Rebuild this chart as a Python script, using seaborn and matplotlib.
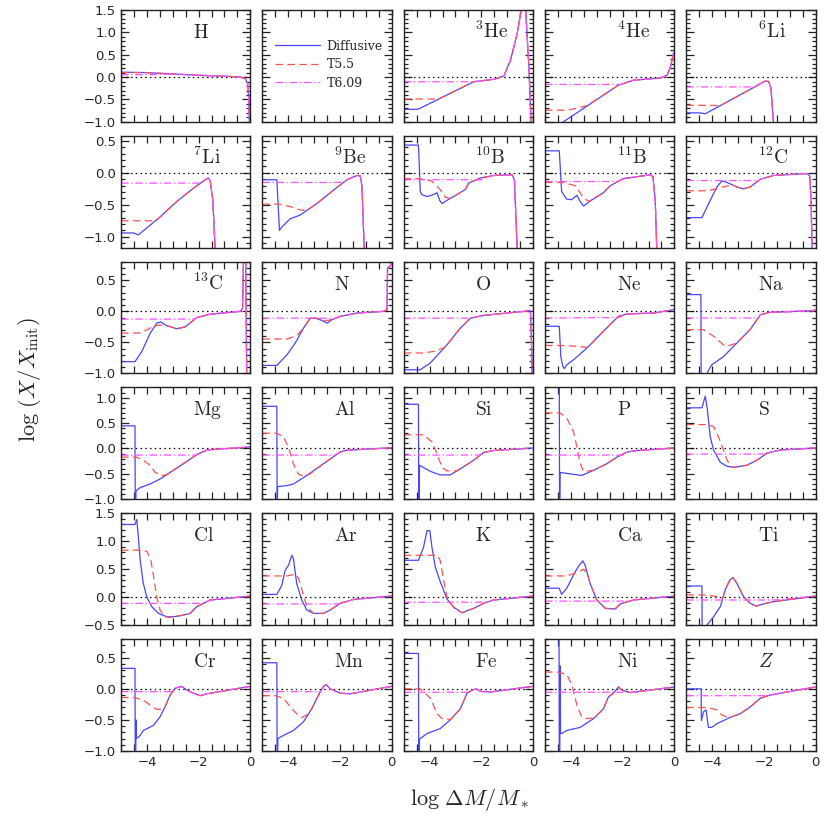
import numpy as np
import pandas as pd
import matplotlib
matplotlib.use('Agg')
import matplotlib.pyplot as plt
from matplotlib.ticker import MultipleLocator
import seaborn as sns

# Abundance profiles, log(X/X_init) vs log(dM/M*).
# Each list holds (x, y) points. The T5.5 / T6.09 models are given by their
# own points up to where they join the diffusive curve, then share its tail.

h_diff = [(-5, 0.11), (-4, 0.10), (-3, 0.07), (-2, 0.04), (-1, 0.02), (-0.4, 0.0),
          (-0.2, -0.03), (-0.1, -0.15), (-0.06, -0.5), (-0.03, -1.1)]
h_t55 = [(-5, 0.10), (-4.5, 0.10)]
h_t609 = [(-5, 0.05), (-3.8, 0.055), (-3.0, 0.07)]

he3_diff = [(-5, -0.72), (-4.45, -0.72), (-2.29, -0.105), (-1.52, -0.05), (-1.13, 0.02),
            (-0.87, 0.38), (-0.61, 0.98), (-0.48, 1.42), (-0.44, 1.65), (-0.30, 1.65),
            (-0.16, 0.23), (-0.07, -1.05)]
he3_t55 = [(-5, -0.49), (-3.85, -0.49), (-3.7, -0.5)]
he3_t609 = [(-5, -0.105), (-2.3, -0.105)]

he4_diff = [(-5, -1.27), (-4.29, -1.0), (-2.16, -0.18), (-1.58, -0.07), (-0.54, -0.02),
            (-0.28, 0.04), (-0.13, 0.27), (-0.01, 0.6)]
he4_t55 = [(-5, -0.74), (-4.16, -0.74), (-3.8, -0.7), (-3.38, -0.64)]
he4_t609 = [(-5, -0.165), (-2.1, -0.165)]

li6_diff = [(-5, -0.80), (-4.47, -0.80), (-4.27, -0.82), (-1.95, -0.09), (-1.82, -0.10),
            (-1.73, -0.25), (-1.63, -1.05)]
li6_t55 = [(-5, -0.63), (-4.21, -0.63), (-3.69, -0.64)]
li6_t609 = [(-5, -0.22), (-2.4, -0.22)]

li7_diff = [(-5, -0.94), (-4.52, -0.94), (-4.33, -0.97), (-3.49, -0.69), (-2.85, -0.45),
            (-2.20, -0.24), (-1.75, -0.11), (-1.62, -0.08), (-1.55, -0.13), (-1.45, -0.43),
            (-1.36, -1.2)]
li7_t55 = [(-5, -0.75), (-3.88, -0.75), (-3.62, -0.74)]
li7_t609 = [(-5, -0.16), (-1.94, -0.16)]

be9_diff = [(-5, -0.107), (-4.44, -0.107), (-4.34, -0.90), (-4.25, -0.85), (-3.93, -0.72),
            (-3.54, -0.66), (-2.89, -0.48), (-2.25, -0.27), (-1.73, -0.107), (-1.34, -0.04),
            (-1.21, -0.05), (-1.15, -0.21), (-1.06, -1.2)]
be9_t55 = [(-5, -0.49), (-4.31, -0.49), (-3.9, -0.53), (-3.54, -0.58), (-3.3, -0.59)]
be9_t609 = [(-5, -0.15), (-1.88, -0.15)]

b10_diff = [(-5, 0.435), (-4.43, 0.435), (-4.36, -0.29), (-4.30, -0.34), (-4.10, -0.37),
            (-3.84, -0.34), (-3.71, -0.31), (-3.61, -0.43), (-3.52, -0.48), (-3.33, -0.43),
            (-2.94, -0.34), (-2.62, -0.26), (-2.49, -0.16), (-2.03, -0.08), (-1.52, -0.04),
            (-0.81, -0.03), (-0.72, -0.11), (-0.61, -1.2)]
b10_t55 = [(-5, -0.09), (-4.36, -0.09), (-3.91, -0.13), (-3.59, -0.26), (-3.39, -0.38),
           (-3.2, -0.40)]
b10_t609 = [(-5, -0.107), (-2.0, -0.107)]

b11_diff = [(-5, 0.345), (-4.45, 0.345), (-4.36, -0.29), (-4.17, -0.41), (-3.97, -0.42),
            (-3.77, -0.35), (-3.64, -0.45), (-3.51, -0.52), (-3.26, -0.44), (-2.74, -0.31),
            (-2.48, -0.20), (-1.97, -0.09), (-0.93, -0.03), (-0.83, -0.06), (-0.74, -0.43),
            (-0.68, -1.2)]
b11_t55 = [(-5, -0.15), (-4.29, -0.15), (-3.84, -0.2), (-3.58, -0.35), (-3.38, -0.43),
           (-3.26, -0.44)]
b11_t609 = [(-5, -0.135), (-2.22, -0.135)]

c12_diff = [(-5, -0.70), (-4.40, -0.70), (-4.08, -0.43), (-3.82, -0.22), (-3.63, -0.125),
            (-3.43, -0.15), (-3.05, -0.22), (-2.79, -0.25), (-2.53, -0.22), (-2.14, -0.10),
            (-1.63, -0.04), (-0.33, -0.01), (-0.23, -0.05), (-0.18, -0.43), (-0.14, -1.2)]
c12_t55 = [(-5, -0.28), (-4.21, -0.28), (-3.82, -0.25), (-3.5, -0.21), (-3.2, -0.19)]
c12_t609 = [(-5, -0.12), (-2.2, -0.12)]

c13_diff = [(-5, -0.81), (-4.46, -0.81), (-4.20, -0.65), (-3.88, -0.36), (-3.62, -0.19),
            (-3.46, -0.17), (-3.23, -0.23), (-2.84, -0.28), (-2.52, -0.25), (-2.07, -0.10),
            (-1.55, -0.045), (-0.39, 0.0), (-0.30, 0.05), (-0.26, 0.9), (-0.18, 0.9),
            (-0.14, -1.1)]
c13_t55 = [(-5, -0.35), (-4.33, -0.35), (-4.0, -0.30), (-3.75, -0.24), (-3.5, -0.22),
           (-3.23, -0.23)]
c13_t609 = [(-5, -0.125), (-2.15, -0.125)]

n_diff = [(-5, -0.87), (-4.44, -0.87), (-4.05, -0.70), (-3.73, -0.51), (-3.41, -0.27),
          (-3.15, -0.11), (-2.96, -0.11), (-2.70, -0.145), (-2.50, -0.19), (-2.31, -0.135),
          (-1.99, -0.08), (-1.34, -0.027), (-0.31, 0.0), (-0.18, 0.027), (-0.16, 0.70),
          (-0.05, 0.73), (0, 0.85)]
n_t55 = [(-5, -0.445), (-4.05, -0.445), (-3.67, -0.39), (-3.41, -0.27), (-3.15, -0.11),
         (-2.9, -0.11), (-2.6, -0.15), (-2.4, -0.14)]
n_t609 = [(-5, -0.11), (-2.4, -0.11)]

o_diff = [(-5, -0.94), (-4.36, -0.94), (-3.97, -0.83), (-3.33, -0.54), (-2.81, -0.27),
          (-2.42, -0.11), (-1.91, -0.065), (-1.0, -0.027), (-0.10, 0.01), (-0.07, -0.35),
          (-0.03, -1.1)]
o_t55 = [(-5, -0.67), (-4.23, -0.67), (-3.84, -0.645), (-3.46, -0.59)]
o_t609 = [(-5, -0.11), (-2.42, -0.11)]

ne_diff = [(-5, -0.24), (-4.45, -0.24), (-4.39, -0.73), (-4.31, -0.89), (-4.25, -0.92),
           (-4.16, -0.86), (-3.90, -0.78), (-3.38, -0.59), (-2.74, -0.32), (-2.16, -0.08),
           (-1.83, -0.042), (-0.80, -0.027), (-0.03, 0.027), (0, 0.04)]
ne_t55 = [(-5, -0.55), (-4.29, -0.55), (-3.90, -0.56), (-3.6, -0.57), (-3.35, -0.58)]
ne_t609 = [(-5, -0.107), (-2.16, -0.10)]

na_diff = [(-5, 0.27), (-4.44, 0.27), (-4.43, -1.1), (-4.22, -1.1), (-4.21, -1.0),
           (-4.02, -0.86), (-3.57, -0.73), (-3.05, -0.51), (-2.53, -0.29), (-2.14, -0.053),
           (-1.76, -0.016), (-0.08, 0.011), (0, 0.03)]
na_t55 = [(-5, -0.295), (-4.34, -0.295), (-3.95, -0.40), (-3.57, -0.54), (-3.43, -0.56),
          (-3.2, -0.53), (-3.05, -0.51)]
na_t609 = [(-5, -0.107), (-2.2, -0.107)]

mg_diff = [(-5, 0.445), (-4.46, 0.445), (-4.45, -1.1), (-4.43, -1.1), (-4.42, -0.83),
           (-4.26, -0.77), (-3.88, -0.70), (-3.49, -0.60), (-3.10, -0.47), (-2.59, -0.30),
           (-2.07, -0.12), (-1.68, -0.03), (-1.16, -0.01), (0, 0.03)]
mg_t55 = [(-5, -0.17), (-4.41, -0.17), (-4.14, -0.23), (-3.88, -0.33), (-3.68, -0.47),
          (-3.42, -0.53), (-3.23, -0.52)]
mg_t609 = [(-5, -0.13), (-2.1, -0.13)]

al_diff = [(-5, 0.83), (-4.44, 0.83), (-4.43, -1.1), (-4.42, -1.1), (-4.41, -0.75),
           (-4.05, -0.73), (-3.80, -0.70), (-3.28, -0.53), (-2.64, -0.30), (-1.99, -0.07),
           (-1.73, -0.033), (0, 0.013)]
al_t55 = [(-5, 0.30), (-4.44, 0.30), (-4.19, 0.23), (-3.99, 0.03), (-3.80, -0.30),
          (-3.60, -0.51), (-3.41, -0.54), (-3.15, -0.50)]
al_t609 = [(-5, -0.13), (-2.2, -0.13)]

si_diff = [(-5, 0.87), (-4.43, 0.87), (-4.42, -1.1), (-4.40, -1.1), (-4.39, -0.33),
           (-3.97, -0.45), (-3.59, -0.52), (-3.20, -0.52), (-2.81, -0.40), (-2.29, -0.23),
           (-1.91, -0.08), (-1.52, -0.04), (0, 0.01)]
si_t55 = [(-5, 0.27), (-4.23, 0.27), (-3.91, 0.13), (-3.71, -0.11), (-3.52, -0.37),
          (-3.33, -0.44), (-2.94, -0.44)]
si_t609 = [(-5, -0.13), (-2.05, -0.13)]

p_diff = [(-5, 1.6), (-4.45, 1.6), (-4.44, -1.1), (-4.43, -1.1), (-4.42, -0.47),
          (-4.03, -0.50), (-3.58, -0.53), (-3.13, -0.43), (-2.61, -0.30), (-2.22, -0.17),
          (-1.83, -0.07), (-1.44, -0.04), (0, 0.01)]
p_t55 = [(-5, 0.70), (-4.42, 0.70), (-4.16, 0.60), (-3.90, 0.33), (-3.77, 0.03),
         (-3.64, -0.30), (-3.51, -0.45), (-3.13, -0.43)]
p_t609 = [(-5, -0.13), (-2.0, -0.13)]

s_diff = [(-5, 0.80), (-4.40, 0.80), (-4.27, 1.03), (-4.19, 0.77), (-4.08, 0.23),
          (-3.95, -0.03), (-3.69, -0.27), (-3.43, -0.35), (-3.18, -0.37), (-2.66, -0.33),
          (-2.27, -0.23), (-1.88, -0.09), (-1.37, -0.03), (0, 0.01)]
s_t55 = [(-5, 0.47), (-4.15, 0.47), (-3.95, 0.43), (-3.76, 0.23), (-3.57, -0.03),
         (-3.43, -0.23), (-3.24, -0.37)]
s_t609 = [(-5, -0.11), (-1.95, -0.11)]

cl_diff = [(-5, 1.30), (-4.46, 1.30), (-4.39, 1.39), (-4.33, 1.08), (-4.26, 0.67),
           (-4.14, 0.25), (-4.0, 0.0), (-3.81, -0.17), (-3.55, -0.29), (-3.23, -0.35),
           (-2.97, -0.35), (-2.59, -0.32), (-2.33, -0.29), (-2.07, -0.17), (-1.55, -0.05),
           (0, 0.02)]
cl_t55 = [(-5, 0.84), (-4.2, 0.84), (-4.0, 0.82), (-3.85, 0.67), (-3.72, 0.31),
          (-3.62, 0.0), (-3.49, -0.23), (-3.30, -0.35), (-3.10, -0.36)]
cl_t609 = [(-5, -0.11), (-1.85, -0.11)]

ar_diff = [(-5, 0.05), (-4.44, 0.05), (-4.25, 0.21), (-4.12, 0.48), (-3.99, 0.57),
           (-3.86, 0.75), (-3.80, 0.69), (-3.67, 0.24), (-3.47, -0.06), (-3.28, -0.23),
           (-3.02, -0.29), (-2.64, -0.29), (-2.38, -0.23), (-1.99, -0.11), (-1.47, -0.04),
           (0, 0.02)]
ar_t55 = [(-5, 0.38), (-4.05, 0.38), (-3.73, 0.41), (-3.60, 0.34), (-3.47, 0.13),
          (-3.28, -0.17), (-3.05, -0.28)]
ar_t609 = [(-5, -0.12), (-2.05, -0.12)]

k_diff = [(-5, 0.66), (-4.43, 0.66), (-4.23, 0.90), (-4.10, 1.19), (-3.99, 1.19),
          (-3.91, 0.90), (-3.78, 0.54), (-3.59, 0.28), (-3.33, -0.03), (-3.07, -0.18),
          (-2.74, -0.28), (-2.55, -0.24), (-2.29, -0.20), (-1.91, -0.11), (-1.52, -0.05),
          (0, 0.02)]
k_t55 = [(-5, 0.75), (-3.71, 0.75), (-3.59, 0.66), (-3.46, 0.31), (-3.33, 0.01),
         (-3.25, -0.08)]
k_t609 = [(-5, -0.09), (-1.8, -0.09)]

ca_diff = [(-5, 0.16), (-4.45, 0.16), (-4.36, 0.05), (-4.16, 0.16), (-3.90, 0.40),
           (-3.71, 0.55), (-3.54, 0.65), (-3.45, 0.57), (-3.26, 0.25), (-3.0, -0.05),
           (-2.67, -0.20), (-2.29, -0.21), (-2.09, -0.12), (-1.58, -0.05), (0, 0.02)]
ca_t55 = [(-5, 0.38), (-4.16, 0.38), (-3.77, 0.44), (-3.5, 0.50), (-3.35, 0.40)]
ca_t609 = [(-5, -0.07), (-1.75, -0.07)]

ti_diff = [(-5, 0.20), (-4.40, 0.20), (-4.39, -0.6), (-4.22, -0.6), (-4.21, -0.50),
           (-3.95, -0.35), (-3.69, -0.17), (-3.50, 0.13), (-3.33, 0.30), (-3.20, 0.35),
           (-3.05, 0.25), (-2.79, 0.01), (-2.53, -0.11), (-2.30, -0.16), (-2.02, -0.12),
           (-1.63, -0.08), (0, 0.02)]
ti_t55 = [(-5, 0.04), (-4.21, 0.04), (-3.82, 0.01), (-3.6, -0.02)]
ti_t609 = [(-5, -0.05), (-1.6, -0.05)]

cr_diff = [(-5, 0.33), (-4.46, 0.33), (-4.45, -1.1), (-4.43, -1.1), (-4.42, -0.5),
           (-4.41, -0.79), (-4.37, -0.79), (-4.26, -0.75), (-4.14, -0.67), (-3.75, -0.59),
           (-3.49, -0.45), (-3.30, -0.29), (-3.10, -0.10), (-2.91, 0.01), (-2.65, 0.04),
           (-2.45, -0.02), (-2.26, -0.06), (-1.94, -0.11), (-1.68, -0.08), (0, 0.04)]
cr_t55 = [(-5, -0.14), (-4.5, -0.14), (-4.14, -0.18), (-3.88, -0.26), (-3.62, -0.33),
          (-3.42, -0.33), (-3.30, -0.29)]
cr_t609 = [(-5, -0.045), (-3.0, -0.045)]

mn_diff = [(-5, 0.42), (-4.44, 0.42), (-4.43, -1.1), (-4.41, -1.1), (-4.40, -0.80),
           (-4.19, -0.75), (-3.80, -0.67), (-3.41, -0.53), (-3.09, -0.32), (-2.83, -0.10),
           (-2.64, 0.04), (-2.53, 0.07), (-2.38, 0.0), (-1.99, -0.07), (-1.60, -0.08),
           (0, 0.04)]
mn_t55 = [(-5, -0.11), (-4.5, -0.11), (-4.19, -0.15), (-3.86, -0.32), (-3.60, -0.43),
          (-3.47, -0.46), (-3.2, -0.40)]
mn_t609 = [(-5, -0.045), (-2.74, -0.045)]

fe_diff = [(-5, 0.57), (-4.43, 0.57), (-4.42, -1.1), (-4.40, -1.1), (-4.39, -0.81),
           (-4.10, -0.72), (-3.59, -0.64), (-3.20, -0.50), (-2.81, -0.32), (-2.55, -0.07),
           (-2.36, -0.02), (-2.19, 0.0), (-2.03, -0.04), (-1.65, -0.05), (0, 0.04)]
fe_t55 = [(-5, 0.0), (-4.36, 0.0), (-3.97, -0.15), (-3.71, -0.40), (-3.52, -0.48),
          (-3.33, -0.48), (-3.2, -0.50)]
fe_t609 = [(-5, -0.055), (-2.5, -0.055)]

ni_diff = [(-5, 1.0), (-4.46, 1.0), (-4.45, -1.1), (-4.43, -1.1), (-4.42, 0.37),
           (-4.40, -0.72), (-4.36, -0.72), (-4.16, -0.67), (-3.64, -0.62), (-3.13, -0.48),
           (-2.74, -0.32), (-2.55, -0.13), (-2.36, -0.07), (-2.16, 0.03), (-2.03, -0.02),
           (-1.71, -0.06), (-1.32, -0.04), (0, 0.03)]
ni_t55 = [(-5, 0.27), (-4.5, 0.27), (-4.16, 0.23), (-3.97, 0.07), (-3.77, -0.26),
          (-3.58, -0.45), (-3.38, -0.48), (-3.18, -0.47)]
ni_t609 = [(-5, -0.055), (-1.5, -0.055)]

z_diff = [(-5, 0.0), (-4.43, 0.0), (-4.42, -0.51), (-4.34, -0.37), (-4.24, -0.34),
          (-4.15, -0.62), (-4.02, -0.62), (-3.82, -0.56), (-3.31, -0.46), (-2.92, -0.40),
          (-2.53, -0.29), (-2.14, -0.15), (-1.76, -0.10), (-1.24, -0.06), (0, 0.03)]
z_t55 = [(-5, -0.30), (-4.34, -0.30), (-4.08, -0.31), (-3.82, -0.34), (-3.63, -0.42),
         (-3.45, -0.45), (-3.31, -0.46)]
z_t609 = [(-5, -0.11), (-1.9, -0.11)]

# panel label, curves; None marks the legend panel
panels = [
    (r'$\mathrm{H}$', h_diff, h_t55, h_t609), None,
    (r'${}^{3}\mathrm{He}$', he3_diff, he3_t55, he3_t609),
    (r'${}^{4}\mathrm{He}$', he4_diff, he4_t55, he4_t609),
    (r'${}^{6}\mathrm{Li}$', li6_diff, li6_t55, li6_t609),
    (r'${}^{7}\mathrm{Li}$', li7_diff, li7_t55, li7_t609),
    (r'${}^{9}\mathrm{Be}$', be9_diff, be9_t55, be9_t609),
    (r'${}^{10}\mathrm{B}$', b10_diff, b10_t55, b10_t609),
    (r'${}^{11}\mathrm{B}$', b11_diff, b11_t55, b11_t609),
    (r'${}^{12}\mathrm{C}$', c12_diff, c12_t55, c12_t609),
    (r'${}^{13}\mathrm{C}$', c13_diff, c13_t55, c13_t609),
    (r'$\mathrm{N}$', n_diff, n_t55, n_t609),
    (r'$\mathrm{O}$', o_diff, o_t55, o_t609),
    (r'$\mathrm{Ne}$', ne_diff, ne_t55, ne_t609),
    (r'$\mathrm{Na}$', na_diff, na_t55, na_t609),
    (r'$\mathrm{Mg}$', mg_diff, mg_t55, mg_t609),
    (r'$\mathrm{Al}$', al_diff, al_t55, al_t609),
    (r'$\mathrm{Si}$', si_diff, si_t55, si_t609),
    (r'$\mathrm{P}$', p_diff, p_t55, p_t609),
    (r'$\mathrm{S}$', s_diff, s_t55, s_t609),
    (r'$\mathrm{Cl}$', cl_diff, cl_t55, cl_t609),
    (r'$\mathrm{Ar}$', ar_diff, ar_t55, ar_t609),
    (r'$\mathrm{K}$', k_diff, k_t55, k_t609),
    (r'$\mathrm{Ca}$', ca_diff, ca_t55, ca_t609),
    (r'$\mathrm{Ti}$', ti_diff, ti_t55, ti_t609),
    (r'$\mathrm{Cr}$', cr_diff, cr_t55, cr_t609),
    (r'$\mathrm{Mn}$', mn_diff, mn_t55, mn_t609),
    (r'$\mathrm{Fe}$', fe_diff, fe_t55, fe_t609),
    (r'$\mathrm{Ni}$', ni_diff, ni_t55, ni_t609),
    (r'$Z$', z_diff, z_t55, z_t609),
]
row_ylims = [(-1.0, 1.5), (-1.17, 0.58), (-1.0, 0.8), (-1.0, 1.2), (-0.5, 1.5), (-1.0, 0.8)]

models = ['Diffusive', 'T5.5', 'T6.09']
palette = {'Diffusive': '#4646ff', 'T5.5': '#ff5050', 'T6.09': '#ff50ff'}
dashes = {'Diffusive': '', 'T5.5': (6, 3.5), 'T6.09': (6, 2.2, 1, 2.2)}


def follow(head, lead):
    # a model curve that joins the diffusive one keeps the diffusive tail
    return head + [p for p in lead if p[0] > head[-1][0]]


def panel_frame(diff, t55, t609):
    parts = []
    for name, pts in zip(models, [diff, follow(t55, diff), follow(t609, diff)]):
        d = pd.DataFrame(pts, columns=['x', 'y'])
        d['model'] = name
        parts.append(d)
    return pd.concat(parts, ignore_index=True)


sns.set_style('ticks')
plt.rcParams['mathtext.fontset'] = 'cm'
plt.rcParams['font.family'] = ['DejaVu Sans']

fig, axes = plt.subplots(6, 5, figsize=(8.3, 8.17), dpi=100, sharex=True, sharey='row')
fig.subplots_adjust(left=0.1458, right=0.9828, top=0.9878, bottom=0.0808,
                    wspace=0.093, hspace=0.125)

for i, ax in enumerate(axes.flat):
    row = i // 5
    ax.set_xlim(-5, 0)
    ax.set_ylim(*row_ylims[row])
    ax.xaxis.set_major_locator(MultipleLocator(2))
    ax.xaxis.set_minor_locator(MultipleLocator(0.5))
    ax.yaxis.set_major_locator(MultipleLocator(0.5))
    ax.yaxis.set_minor_locator(MultipleLocator(0.1))
    ax.tick_params(which='both', direction='in', top=True, right=True,
                   width=0.9, color='#222222', labelsize=9.5)
    ax.tick_params(axis='y', which='major', length=6)
    ax.tick_params(axis='y', which='minor', length=3)
    ax.tick_params(axis='x', which='both', length=5)
    for sp in ax.spines.values():
        sp.set_linewidth(1.0)
        sp.set_color('#222222')
    ax.set_xlabel('')
    ax.set_ylabel('')

    p = panels[i]
    if p is None:
        continue
    label, diff, t55, t609 = p
    ax.axhline(0, color='black', lw=0.9, ls=(0, (1.2, 2.6)), zorder=1)
    df = panel_frame(diff, t55, t609)
    sns.lineplot(data=df, x='x', y='y', hue='model', style='model',
                 hue_order=models, style_order=models, palette=palette, dashes=dashes,
                 sort=False, estimator=None, legend=False, lw=0.9, ax=ax)
    ax.set_xlabel('')
    ax.set_ylabel('')
    ax.text(0.555, 0.75, label, transform=ax.transAxes, fontsize=14,
            ha='left', va='baseline')

# legend sits in the empty second panel
lax = axes[0, 1]
handles = [plt.Line2D([], [], color=palette[m], lw=0.9,
                      dashes=dashes[m] if dashes[m] else (None, None)) for m in models]
handles[0].set_linestyle('-')
lax.legend(handles, models, loc='upper left', bbox_to_anchor=(0.095, 0.735),
           frameon=False, handlelength=3.6, handletextpad=0.55, labelspacing=0.45,
           borderaxespad=0, borderpad=0, prop={'family': 'DejaVu Serif', 'size': 9})

fig.text(0.036, 0.535, r'$\log\,(X/X_{\rm init})$', rotation=90, fontsize=16,
         ha='center', va='center')
fig.text(0.566, 0.021, r'$\log\,\Delta M/M_*$', fontsize=16, ha='center', va='center')

fig.savefig('out.png', dpi=100)
plt.close(fig)
